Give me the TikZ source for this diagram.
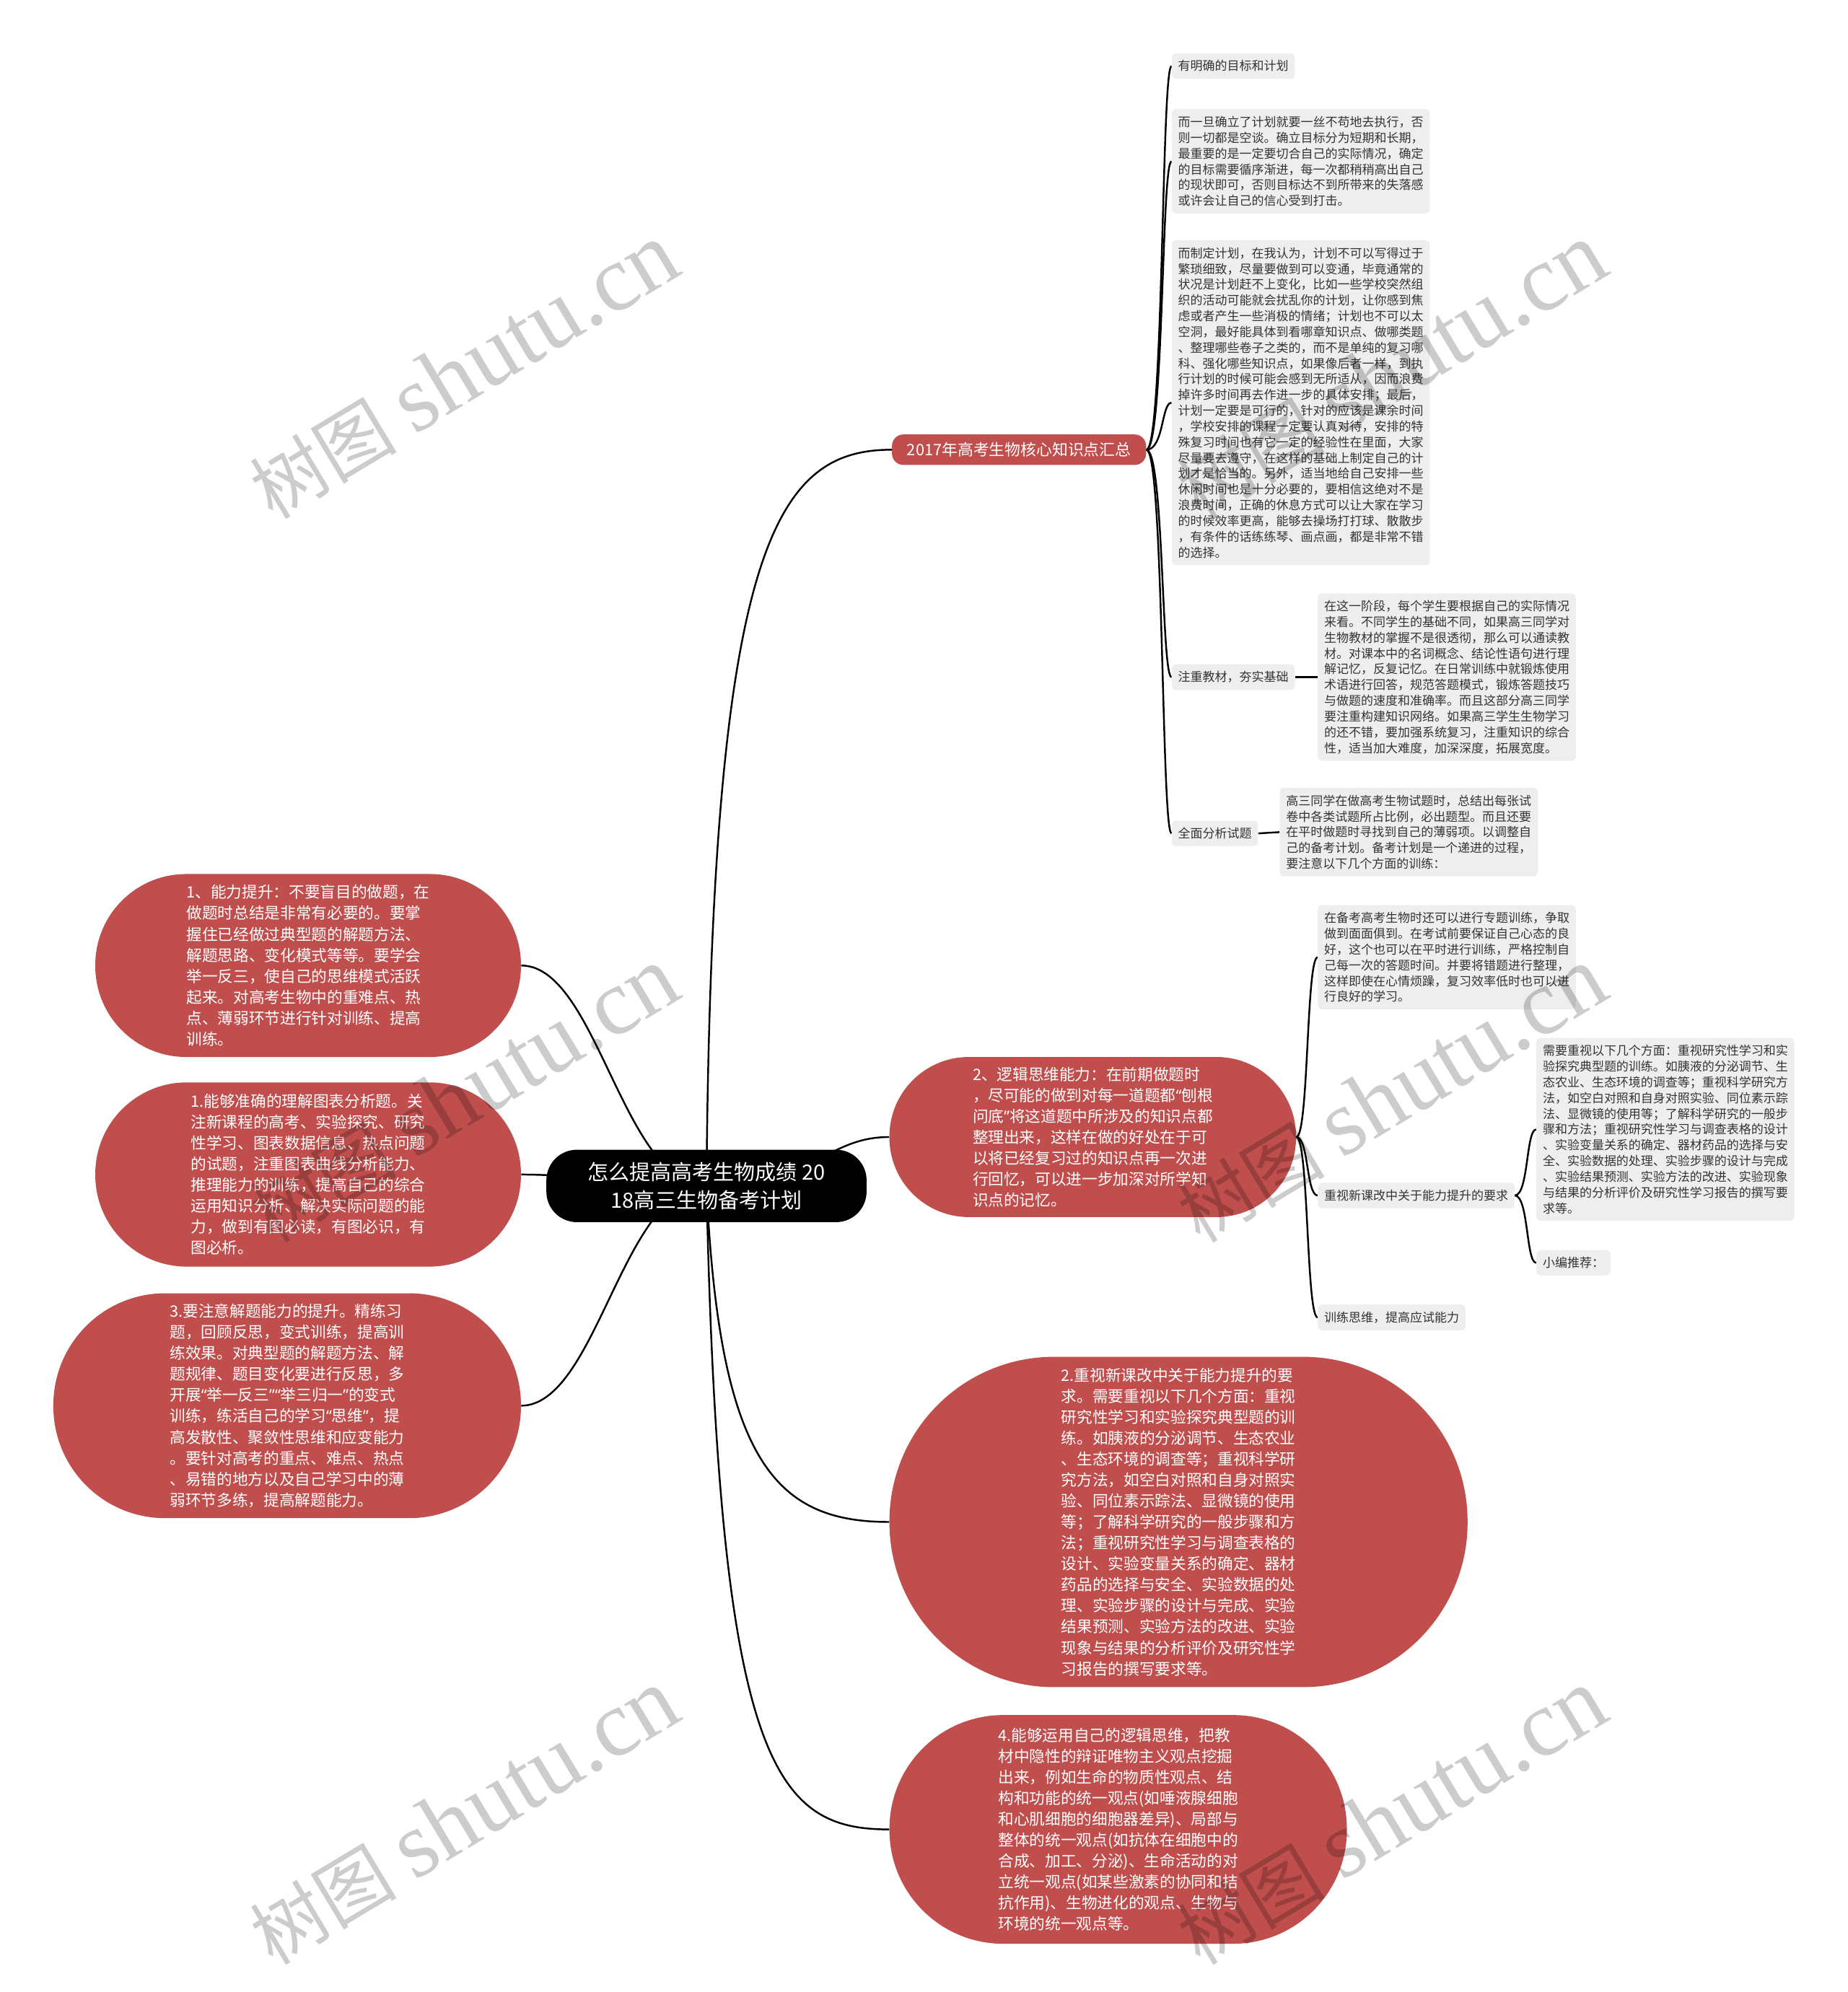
\documentclass[tikz,border=0pt]{standalone}
\usepackage{fontspec}
\newfontfamily\cjk{Noto Sans CJK SC}
\newfontfamily\wmserif{Liberation Serif}
\newfontfamily\latq{Noto Sans}
\newcommand\qopen{{\latq “}}
\newcommand\qclose{{\latq ”}}
\definecolor{nodered}{HTML}{BF4E4D}
\definecolor{boxgray}{HTML}{EEEEEE}
\definecolor{txtgray}{HTML}{333333}
\pgfdeclarelayer{bg}
\pgfsetlayers{bg,main}
\tikzset{
  conn/.style={draw=black, line width=1.4pt},
  gbox/.style={fill=boxgray, text=txtgray, rounded corners=3pt, inner xsep=5pt, inner ysep=5.5pt, align=left, anchor=west, font=\cjk\fontsize{9.65}{12.4}\selectfont},
  oval/.style={fill=nodered, text=white, inner sep=0pt, align=left, font=\cjk\fontsize{12.3}{16.5}\selectfont},
  rootbox/.style={fill=black, text=white, rounded corners=24pt, minimum width=252pt, minimum height=57pt, inner sep=0pt, align=center, font=\cjk\fontsize{16.5}{22}\selectfont},
  branchbox/.style={fill=nodered, text=white, rounded corners=9pt, minimum width=200pt, minimum height=24pt, inner sep=0pt, font=\cjk\fontsize{12.4}{15}\selectfont},
  wm/.style={rotate=31, text=black, text opacity=0.2, inner sep=0pt}
}
\begin{document}
\begin{tikzpicture}[x=1pt,y=-1pt]
\begin{pgfonlayer}{bg}
\fill[white] (0,0) rectangle (1454,1568);
\end{pgfonlayer}
\useasboundingbox (0,0) rectangle (1454,1568);

% root and first level
\node[rootbox] (root) at (556,933.5) {怎么提高高考生物成绩 20\\18高三生物备考计划};
\node[branchbox] (b1) at (802,354) {2017年高考生物核心知识点汇总};

\node[oval, minimum width=335pt, minimum height=144pt, rounded corners=71.5pt] (o1) at (242.5,760) {1、能力提升：不要盲目的做题，在\\
做题时总结是非常有必要的。要掌\\
握住已经做过典型题的解题方法、\\
解题思路、变化模式等等。要学会\\
举一反三，使自己的思维模式活跃\\
起来。对高考生物中的重难点、热\\
点、薄弱环节进行针对训练、提高\\
训练。};

\node[oval, minimum width=335pt, minimum height=145pt, rounded corners=72pt] (o2) at (242.5,924.5) {1.能够准确的理解图表分析题。关\\
注新课程的高考、实验探究、研究\\
性学习、图表数据信息、热点问题\\
的试题，注重图表曲线分析能力、\\
推理能力的训练，提高自己的综合\\
运用知识分析、解决实际问题的能\\
力，做到有图必读，有图必识，有\\
图必析。};

\node[oval, minimum width=368pt, minimum height=177pt, rounded corners=88pt] (o3) at (226,1106.5) {3.要注意解题能力的提升。精练习\\
题，回顾反思，变式训练，提高训\\
练效果。对典型题的解题方法、解\\
题规律、题目变化要进行反思，多\\
开展\qopen 举一反三\qclose\qopen 举三归一\qclose 的变式\\
训练，练活自己的学习\qopen 思维\qclose ，提\\
高发散性、聚敛性思维和应变能力\\
。要针对高考的重点、难点、热点\\
、易错的地方以及自己学习中的薄\\
弱环节多练，提高解题能力。};

\node[oval, minimum width=320pt, minimum height=126pt, rounded corners=62.5pt] (o4) at (860,895) {2、逻辑思维能力：在前期做题时\\
，尽可能的做到对每一道题都\qopen 刨根\\
问底\qclose 将这道题中所涉及的知识点都\\
整理出来，这样在做的好处在于可\\
以将已经复习过的知识点再一次进\\
行回忆，可以进一步加深对所学知\\
识点的记忆。};

\node[oval, minimum width=455pt, minimum height=260pt, rounded corners=129.5pt] (o5) at (927.5,1198) {2.重视新课改中关于能力提升的要\\
求。需要重视以下几个方面：重视\\
研究性学习和实验探究典型题的训\\
练。如胰液的分泌调节、生态农业\\
、生态环境的调查等；重视科学研\\
究方法，如空白对照和自身对照实\\
验、同位素示踪法、显微镜的使用\\
等；了解科学研究的一般步骤和方\\
法；重视研究性学习与调查表格的\\
设计、实验变量关系的确定、器材\\
药品的选择与安全、实验数据的处\\
理、实验步骤的设计与完成、实验\\
结果预测、实验方法的改进、实验\\
现象与结果的分析评价及研究性学\\
习报告的撰写要求等。};

\node[oval, minimum width=360pt, minimum height=180pt, rounded corners=89.5pt] (o6) at (880,1440) {4.能够运用自己的逻辑思维，把教\\
材中隐性的辩证唯物主义观点挖掘\\
出来，例如生命的物质性观点、结\\
构和功能的统一观点(如唾液腺细胞\\
和心肌细胞的细胞器差异)、局部与\\
整体的统一观点(如抗体在细胞中的\\
合成、加工、分泌)、生命活动的对\\
立统一观点(如某些激素的协同和拮\\
抗作用)、生物进化的观点、生物与\\
环境的统一观点等。};

% children of b1
\node[gbox] (c11) at (922,52) {有明确的目标和计划};
\node[gbox] (c12) at (922,127) {而一旦确立了计划就要一丝不苟地去执行，否\\
则一切都是空谈。确立目标分为短期和长期，\\
最重要的是一定要切合自己的实际情况，确定\\
的目标需要循序渐进，每一次都稍稍高出自己\\
的现状即可，否则目标达不到所带来的失落感\\
或许会让自己的信心受到打击。};
\node[gbox] (c13) at (922,317) {而制定计划，在我认为，计划不可以写得过于\\
繁琐细致，尽量要做到可以变通，毕竟通常的\\
状况是计划赶不上变化，比如一些学校突然组\\
织的活动可能就会扰乱你的计划，让你感到焦\\
虑或者产生一些消极的情绪；计划也不可以太\\
空洞，最好能具体到看哪章知识点、做哪类题\\
、整理哪些卷子之类的，而不是单纯的复习哪\\
科、强化哪些知识点，如果像后者一样，到执\\
行计划的时候可能会感到无所适从，因而浪费\\
掉许多时间再去作进一步的具体安排；最后，\\
计划一定要是可行的，针对的应该是课余时间\\
，学校安排的课程一定要认真对待，安排的特\\
殊复习时间也有它一定的经验性在里面，大家\\
尽量要去遵守，在这样的基础上制定自己的计\\
划才是恰当的。另外，适当地给自己安排一些\\
休闲时间也是十分必要的，要相信这绝对不是\\
浪费时间，正确的休息方式可以让大家在学习\\
的时候效率更高，能够去操场打打球、散散步\\
，有条件的话练练琴、画点画，都是非常不错\\
的选择。};
\node[gbox] (c14) at (922,533) {注重教材，夯实基础};
\node[gbox] (c14a) at (1037,533) {在这一阶段，每个学生要根据自己的实际情况\\
来看。不同学生的基础不同，如果高三同学对\\
生物教材的掌握不是很透彻，那么可以通读教\\
材。对课本中的名词概念、结论性语句进行理\\
解记忆，反复记忆。在日常训练中就锻炼使用\\
术语进行回答，规范答题模式，锻炼答题技巧\\
与做题的速度和准确率。而且这部分高三同学\\
要注重构建知识网络。如果高三学生生物学习\\
的还不错，要加强系统复习，注重知识的综合\\
性，适当加大难度，加深深度，拓展宽度。};
\node[gbox] (c15) at (922,656) {全面分析试题};
\node[gbox] (c15a) at (1007,655) {高三同学在做高考生物试题时，总结出每张试\\
卷中各类试题所占比例，必出题型。而且还要\\
在平时做题时寻找到自己的薄弱项。以调整自\\
己的备考计划。备考计划是一个递进的过程，\\
要注意以下几个方面的训练：};

% children of o4
\node[gbox] (d1) at (1037,753.5) {在备考高考生物时还可以进行专题训练，争取\\
做到面面俱到。在考试前要保证自己心态的良\\
好，这个也可以在平时进行训练，严格控制自\\
己每一次的答题时间。并要将错题进行整理，\\
这样即使在心情烦躁，复习效率低时也可以进\\
行良好的学习。};
\node[gbox] (d2) at (1037,941) {重视新课改中关于能力提升的要求};
\node[gbox] (d3) at (1037,1037) {训练思维，提高应试能力};
\node[gbox] (e1) at (1209,889) {需要重视以下几个方面：重视研究性学习和实\\
验探究典型题的训练。如胰液的分泌调节、生\\
态农业、生态环境的调查等；重视科学研究方\\
法，如空白对照和自身对照实验、同位素示踪\\
法、显微镜的使用等；了解科学研究的一般步\\
骤和方法；重视研究性学习与调查表格的设计\\
、实验变量关系的确定、器材药品的选择与安\\
全、实验数据的处理、实验步骤的设计与完成\\
、实验结果预测、实验方法的改进、实验现象\\
与结果的分析评价及研究性学习报告的撰写要\\
求等。};
\node[gbox] (e2) at (1209,994) {小编推荐：};

% connectors
\begin{pgfonlayer}{bg}
\draw[conn] (root.center) .. controls (560,430) and (610,354) .. (b1.west);
\draw[conn] (root.center) .. controls (640,933) and (650,895) .. (o4.west);
\draw[conn] (root.center) .. controls (566,1150) and (610,1198) .. (o5.west);
\draw[conn] (root.center) .. controls (566,1390) and (610,1440) .. (o6.west);
\draw[conn] (root.center) .. controls (490,933) and (470,760) .. (o1.east);
\draw[conn] (root.center) .. controls (490,933) and (470,925) .. (o2.east);
\draw[conn] (root.center) .. controls (490,933) and (470,1106) .. (o3.east);

\draw[conn] (b1.east) .. controls (916,354) and (914,52) .. (c11.west);
\draw[conn] (b1.east) .. controls (916,354) and (914,127) .. (c12.west);
\draw[conn] (b1.east) .. controls (916,354) and (914,317) .. (c13.west);
\draw[conn] (b1.east) .. controls (916,354) and (914,533) .. (c14.west);
\draw[conn] (b1.east) .. controls (916,354) and (914,656) .. (c15.west);
\draw[conn] (c14.east) -- (c14a.west);
\draw[conn] (c15.east) -- (c15a.west);

\draw[conn] (o4.east) .. controls (1030,895) and (1028,753.5) .. (d1.west);
\draw[conn] (o4.east) .. controls (1030,895) and (1028,941) .. (d2.west);
\draw[conn] (o4.east) .. controls (1030,895) and (1028,1037) .. (d3.west);

\draw[conn] (d2.east) .. controls (1203,941) and (1201,889) .. (e1.west);
\draw[conn] (d2.east) .. controls (1203,941) and (1201,994) .. (e2.west);
\end{pgfonlayer}

% watermarks
\foreach \wx/\wy [count=\i] in {365/292, 1095/292, 365/862, 1095/862, 365/1430, 1095/1430} {
  \node[wm] (wm\i) at (\wx,\wy) {{\cjk\fontsize{58}{58}\selectfont 树图}\hspace{14pt}{\wmserif\fontsize{74}{74}\selectfont shutu.cn}};
}
\end{tikzpicture}
\end{document}
